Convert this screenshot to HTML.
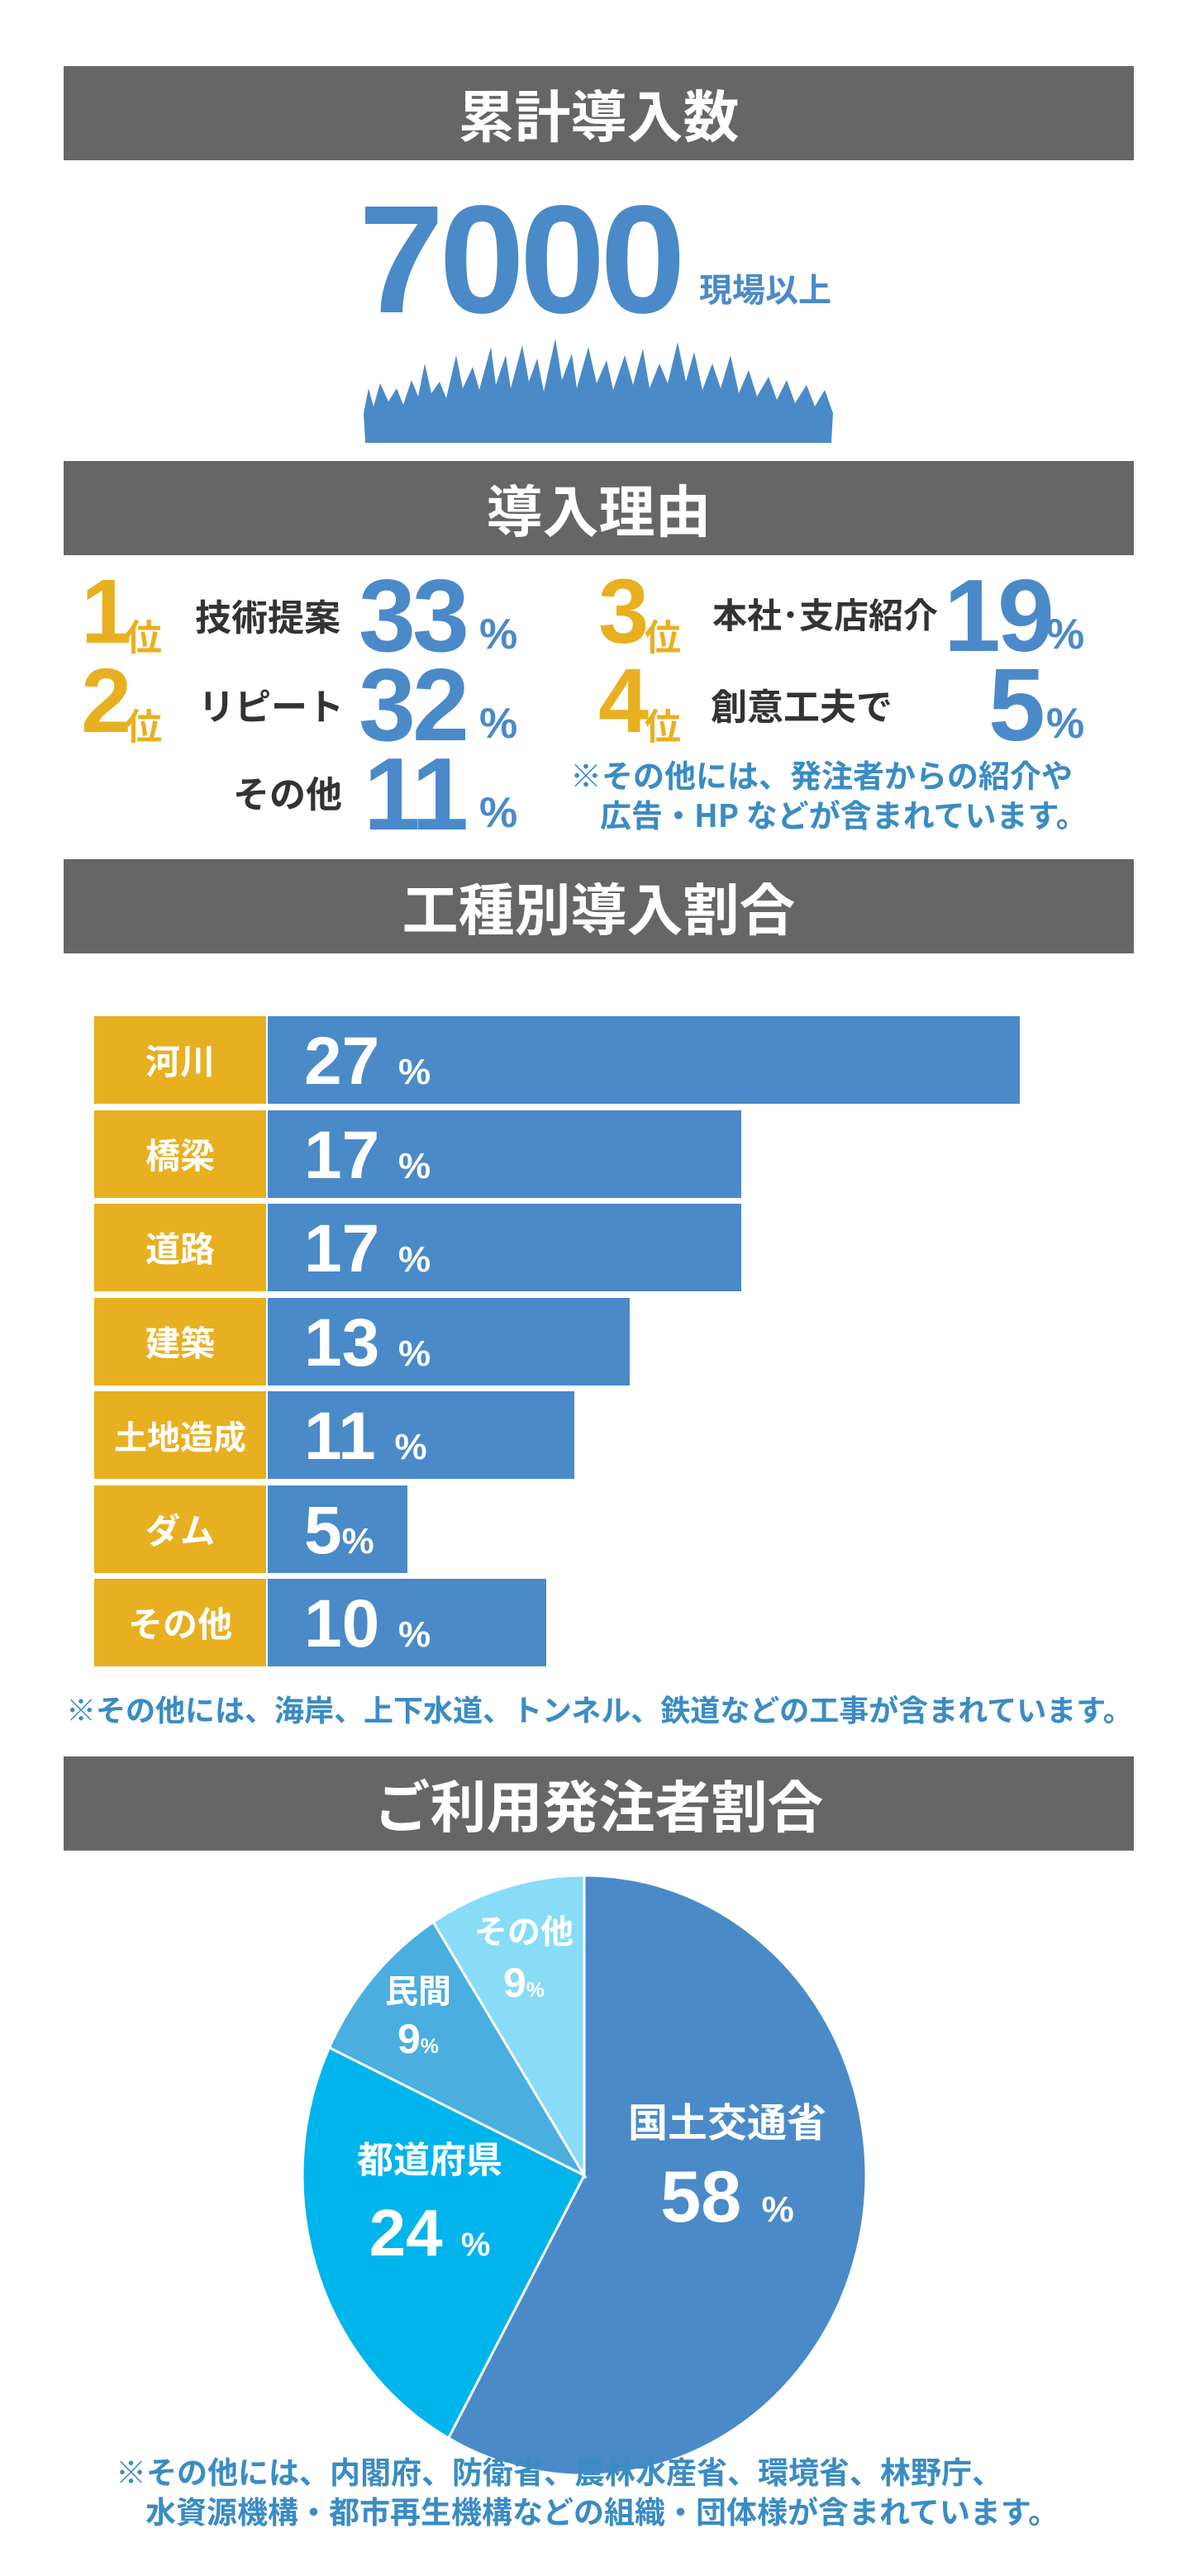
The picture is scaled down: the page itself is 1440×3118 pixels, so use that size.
<!DOCTYPE html>
<html lang="ja"><head><meta charset="utf-8">
<style>
*{margin:0;padding:0;box-sizing:border-box}
body{width:1440px;height:3118px;background:#fff;position:relative;overflow:hidden;font-family:"Liberation Sans","Noto Sans CJK JP",sans-serif;font-weight:bold}
.abs{position:absolute;white-space:nowrap;line-height:1}
.hdr{position:absolute;left:77px;width:1295px;height:114px;background:#666;color:#fff;font-size:68px;text-align:center;line-height:114px;font-family:"Noto Sans CJK JP",sans-serif;font-weight:bold}
.blue{color:#4a8ac8}.gold{color:#e8b020}.dark{color:#333}
.big{font-size:124px;letter-spacing:-4px}
.pct{font-size:52px}
.lbl{font-size:44px;font-family:"Noto Sans CJK JP",sans-serif;font-weight:bold;color:#333}
.note{color:#3a8cc4;font-size:36px;font-family:"Noto Sans CJK JP",sans-serif;font-weight:bold}
</style></head><body>
<div class="hdr" style="top:80px">累計導入数</div>
<div class="abs blue" style="left:434px;top:222px;font-size:186px;letter-spacing:-6px">7000</div>
<div class="abs blue" style="left:846px;top:328px;font-size:40px;font-family:'Noto Sans CJK JP',sans-serif">現場以上</div>
<svg class="abs" style="left:436px;top:400px" width="580" height="140">
<path fill="#4a8ac8" d="M6,136 L4,100 L10,70 L16,92 L24,64 L34,86 L44,70 L52,90 L62,60 L70,80 L78,40 L86,76 L96,62 L104,82 L116,30 L124,70 L136,44 L144,72 L158,20 L164,66 L176,30 L182,70 L196,18 L204,62 L214,34 L222,74 L236,10 L244,60 L256,28 L262,70 L276,20 L286,64 L298,36 L306,72 L320,30 L330,66 L342,22 L350,70 L362,40 L372,64 L384,14 L394,62 L404,26 L414,72 L426,40 L436,70 L448,30 L458,76 L470,48 L480,80 L494,56 L504,84 L516,60 L526,88 L540,66 L550,92 L562,72 L572,100 L570,136 Z"/>
</svg>
<div class="hdr" style="top:558px">導入理由</div>

<div class="abs gold" style="left:98px;top:686px;font-size:110px">1</div>
<div class="abs gold" style="left:152px;top:746px;font-size:44px;font-family:'Noto Sans CJK JP',sans-serif">位</div>
<div class="abs lbl" style="left:236px;top:722px">技術提案</div>
<div class="abs blue big" style="left:434px;top:684px">33</div>
<div class="abs blue pct" style="left:580px;top:742px">%</div>

<div class="abs gold" style="left:98px;top:794px;font-size:110px">2</div>
<div class="abs gold" style="left:152px;top:854px;font-size:44px;font-family:'Noto Sans CJK JP',sans-serif">位</div>
<div class="abs lbl" style="left:240px;top:830px">リピート</div>
<div class="abs blue big" style="left:434px;top:792px">32</div>
<div class="abs blue pct" style="left:580px;top:850px">%</div>

<div class="abs lbl" style="left:282px;top:936px">その他</div>
<div class="abs blue big" style="left:440px;top:900px">11</div>
<div class="abs blue pct" style="left:580px;top:958px">%</div>

<div class="abs gold" style="left:724px;top:686px;font-size:110px">3</div>
<div class="abs gold" style="left:780px;top:746px;font-size:44px;font-family:'Noto Sans CJK JP',sans-serif">位</div>
<div class="abs lbl" style="left:862px;top:722px;font-size:42px">本社･支店紹介</div>
<div class="abs blue big" style="left:1142px;top:684px">19</div>
<div class="abs blue pct" style="left:1266px;top:742px">%</div>

<div class="abs gold" style="left:724px;top:794px;font-size:110px">4</div>
<div class="abs gold" style="left:780px;top:854px;font-size:44px;font-family:'Noto Sans CJK JP',sans-serif">位</div>
<div class="abs lbl" style="left:860px;top:830px">創意工夫で</div>
<div class="abs blue big" style="left:1196px;top:792px">5</div>
<div class="abs blue pct" style="left:1266px;top:850px">%</div>

<div class="abs note" style="left:690px;top:918px;font-size:38px">※その他には、発注者からの紹介や</div>
<div class="abs note" style="left:726px;top:966px;font-size:38px">広告・HP などが含まれています。</div>

<div class="hdr" style="top:1040px">工種別導入割合</div>
<div id="bars"></div>
<div class="abs note" style="left:80px;top:2050px;font-size:36px">※その他には、海岸、上下水道、トンネル、鉄道などの工事が含まれています。</div>

<div class="hdr" style="top:2126px">ご利用発注者割合</div>
<svg id="pie" class="abs" style="left:0;top:0" width="1440" height="3118"></svg>
<div class="abs note" style="left:140px;top:2972px;font-size:37px">※その他には、内閣府、防衛省、農林水産省、環境省、林野庁、</div>
<div class="abs note" style="left:176px;top:3020px;font-size:37px">水資源機構・都市再生機構などの組織・団体様が含まれています。</div>

<script>
const barCategories=["河川","橋梁","道路","建築","土地造成","ダム","その他"];
const barValues=[27,17,17,13,11,5,10];
const pieCategories=["国土交通省","都道府県","民間","その他"];
const pieValues=[58,24,9,9];

const X0=324, PX=33.7, Y0=1230, PITCH=113.5, BH=106;
const xs=v=>X0+v*PX;
const bars=document.getElementById('bars');
barCategories.forEach((c,i)=>{
  const y=Y0+i*PITCH;
  const lab=document.createElement('div');
  
  
  lab.style.cssText=`position:absolute;left:114px;top:${y}px;width:210px;height:${BH}px;background:#e8b020;color:#fff;font-size:${c.length>3?40:42}px;line-height:${BH}px;text-align:center;font-family:"Noto Sans CJK JP",sans-serif;font-weight:bold;border-right:2px solid #fff`;
  lab.textContent=c;bars.appendChild(lab);
  const b=document.createElement('div');
  
  
  b.style.cssText=`position:absolute;left:${X0}px;top:${y}px;width:${xs(barValues[i])-X0}px;height:${BH}px;background:#4a8ac8`;
  bars.appendChild(b);
  const t=document.createElement('div');
  
  
  t.style.cssText=`position:absolute;left:368px;top:${y+14}px;color:#fff;font-size:82px;line-height:1;white-space:nowrap;font-weight:bold`;
  t.innerHTML=barValues[i]+(barValues[i]<10?'':' ')+'<span style="font-size:44px">%</span>';
  bars.appendChild(t);
});

const svg=document.getElementById('pie');
const NS='http://www.w3.org/2000/svg';
const cx=707,cy=2633,rx=341,ry=363;
const colors=["#4a8ac8","#00b4ec","#4aaee0","#88dcf8"];
const total=pieValues.reduce((a,b)=>a+b,0);
const pt=a=>[cx+rx*Math.sin(a),cy-ry*Math.cos(a)];
let acc=0;
const labelPos=[[880,2545,2610,48,88],[520,2592,2658,44,80],[506,2390,2440,40,50],[634,2318,2372,40,50]];
pieValues.forEach((v,i)=>{
  const a0=acc/total*2*Math.PI; acc+=v; const a1=acc/total*2*Math.PI;
  const [x0,y0]=pt(a0),[x1,y1]=pt(a1);
  const p=document.createElementNS(NS,'path');
  
  
  p.setAttribute('d',`M${cx},${cy} L${x0},${y0} A${rx},${ry} 0 ${(a1-a0)>Math.PI?1:0} 1 ${x1},${y1} Z`);
  p.setAttribute('fill',colors[i]);p.setAttribute('stroke','#fff');p.setAttribute('stroke-width','3');
  svg.appendChild(p);
});
pieCategories.forEach((c,i)=>{
  const [lx,ly1,ly2,s1,s2]=labelPos[i];
  const t=document.createElementNS(NS,'text');
  
  
  t.setAttribute('x',lx);t.setAttribute('y',ly1+s1*0.85);t.setAttribute('text-anchor','middle');
  t.setAttribute('fill','#fff');t.setAttribute('font-size',s1);t.setAttribute('font-weight','bold');
  t.setAttribute('font-family','Noto Sans CJK JP, sans-serif');
  t.textContent=c;svg.appendChild(t);
  const n=document.createElementNS(NS,'text');
  
  
  n.setAttribute('x',lx);n.setAttribute('y',ly2+s2*0.9);n.setAttribute('text-anchor','middle');
  n.setAttribute('fill','#fff');n.setAttribute('font-size',s2);n.setAttribute('font-weight','bold');
  n.setAttribute('font-family','Liberation Sans, sans-serif');
  n.innerHTML=pieValues[i]+(pieValues[i]<10?'':' ')+`<tspan font-size="${s2*0.5}">%</tspan>`;
  svg.appendChild(n);
});
</script>
</body></html>
